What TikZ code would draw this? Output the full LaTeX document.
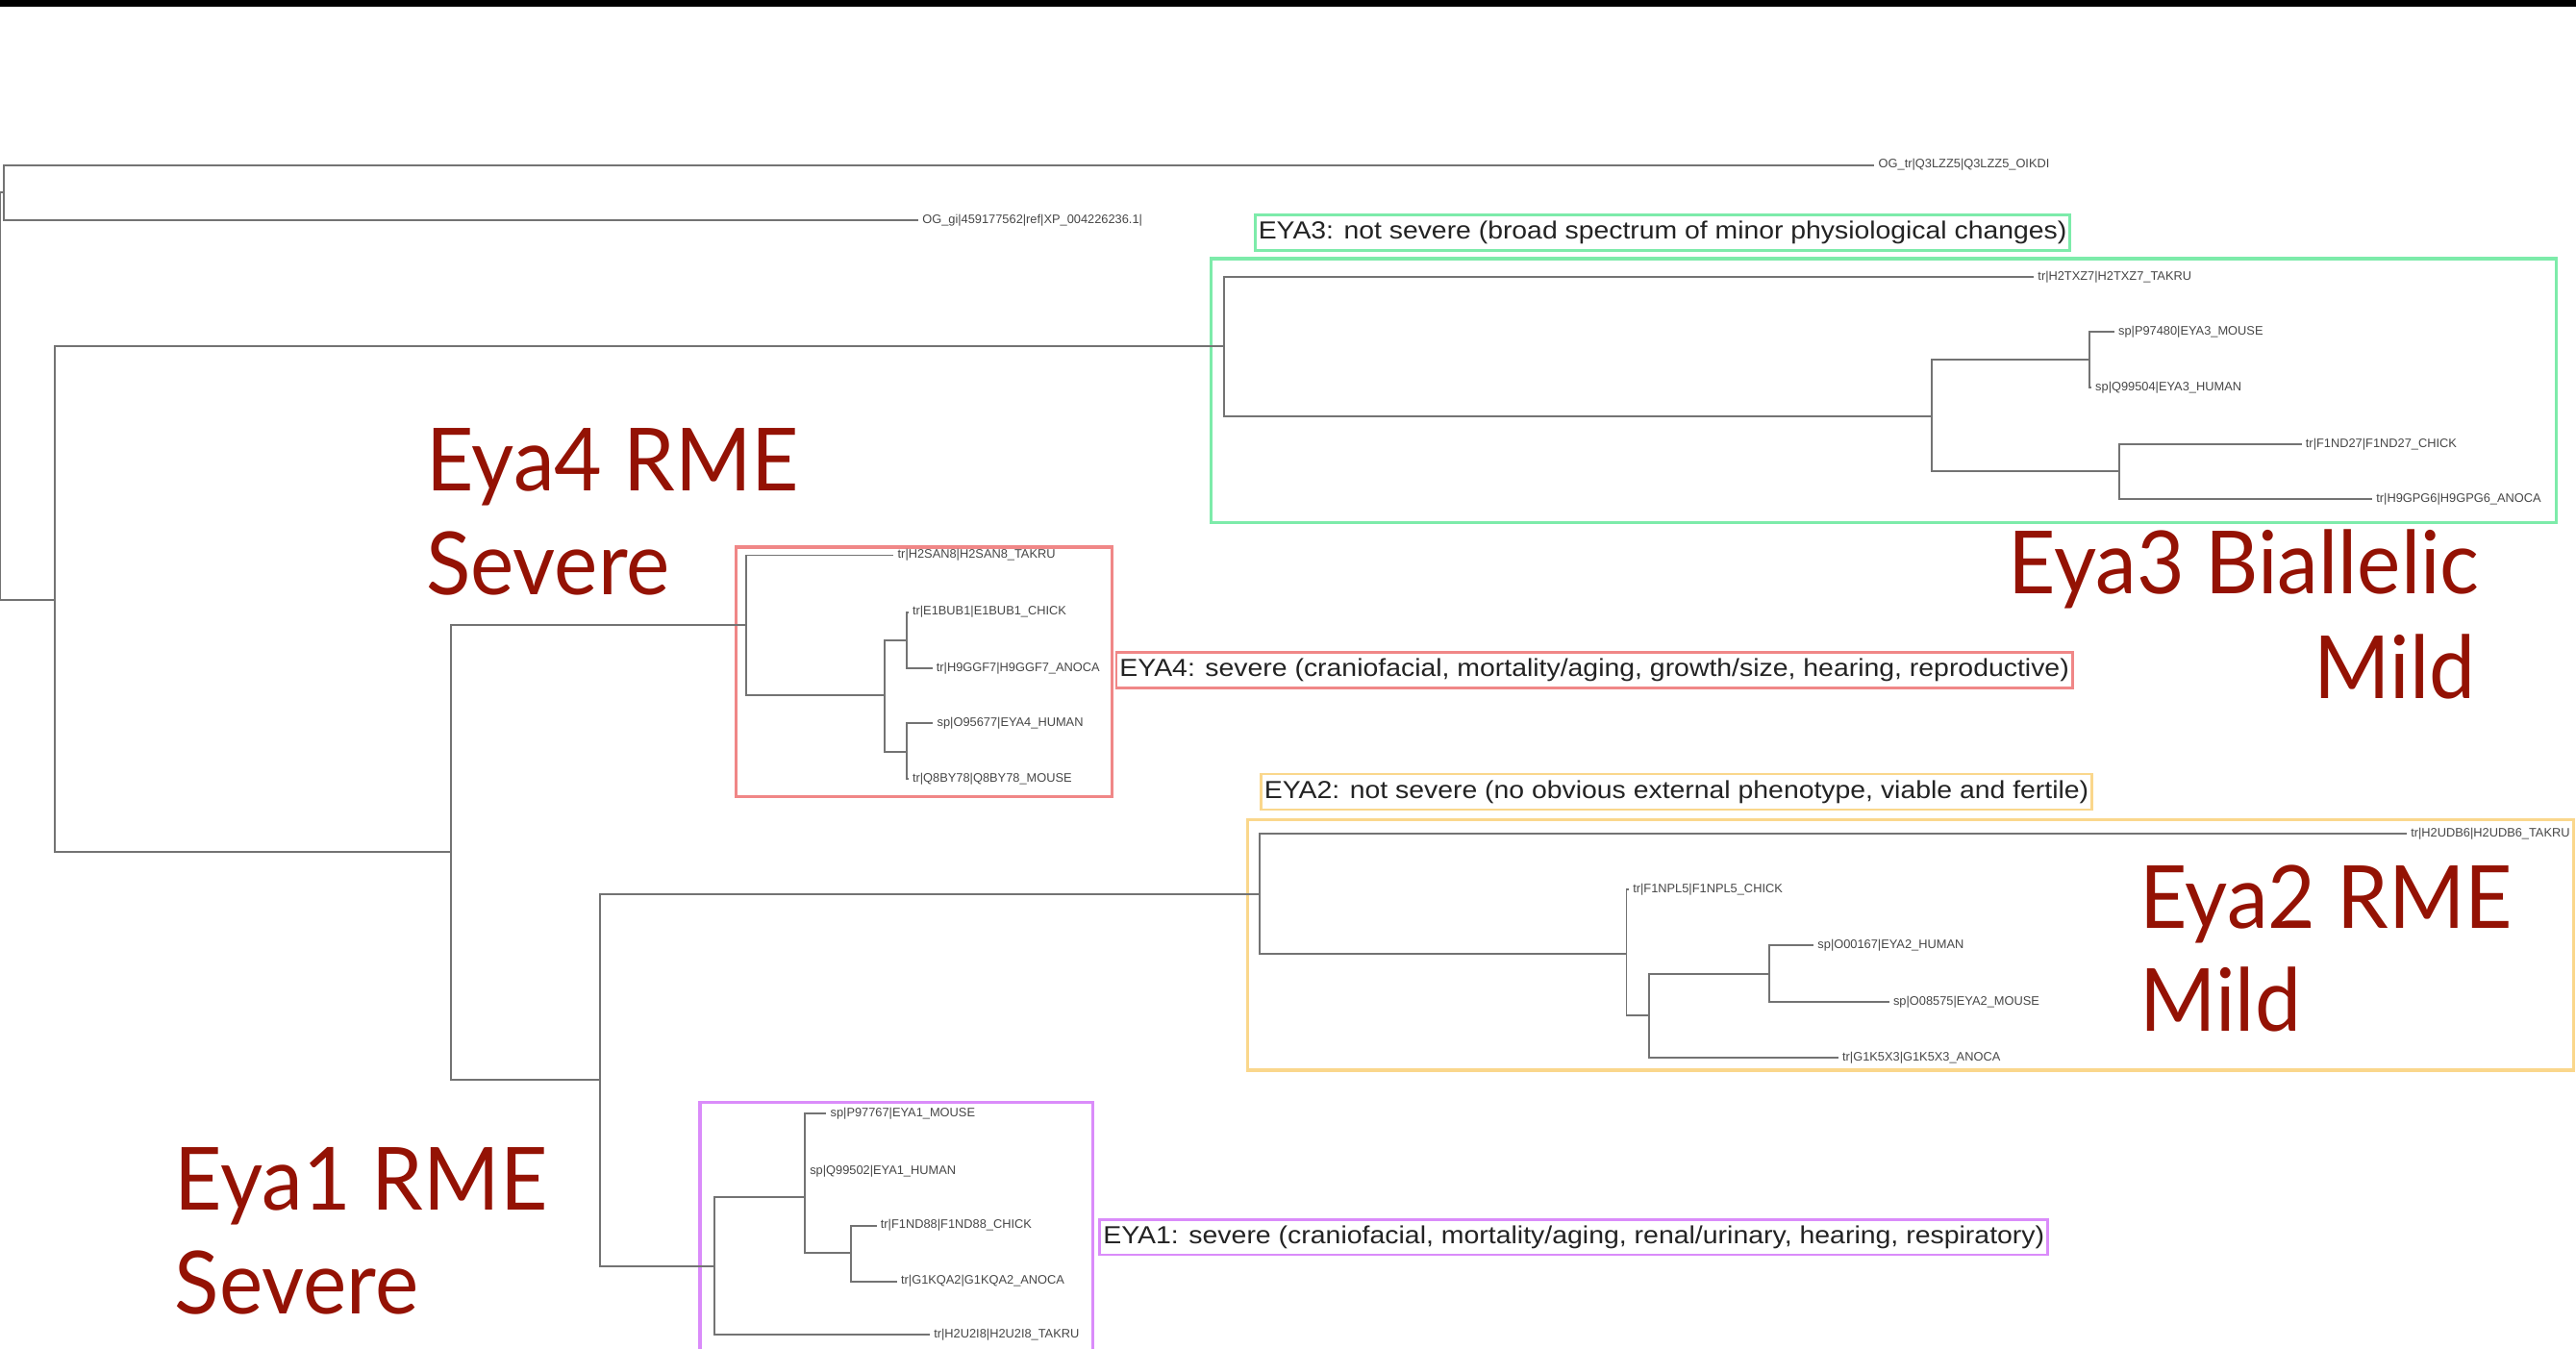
\documentclass[tikz,border=0pt]{standalone}
\usepackage{fontspec}
\usepackage{graphicx}
\setmainfont{Liberation Sans}
\newfontfamily\bigfont{Lato}
\definecolor{redtxt}{RGB}{148,18,4}
\definecolor{branchc}{RGB}{115,115,115}
\definecolor{leafc}{RGB}{70,70,70}
\definecolor{annc}{RGB}{35,35,35}
\definecolor{greenbox}{RGB}{125,235,170}
\definecolor{redbox}{RGB}{240,135,135}
\definecolor{orangebox}{RGB}{250,215,140}
\definecolor{purplebox}{RGB}{218,140,250}
\newcommand\fitw[2]{\resizebox{#1}{\height}{#2}}
\newcommand\narrowtxt[1]{\scalebox{0.945}[1]{#1}}
\begin{document}
\begin{tikzpicture}[x=0.017086cm, y=-0.017086cm,
  branch/.style={draw=branchc, line width=0.55pt},
  leaf/.style={anchor=west, inner xsep=1pt, inner ysep=0pt, text=leafc,
    font=\fontsize{3.65}{4.5}\selectfont},
  ann/.style={line width=0.8pt, inner xsep=1pt, inner ysep=0pt, text=annc,
    minimum height=10.5pt, text height=5.6pt, text depth=1.6pt,
    font=\fontsize{7.3}{9}\selectfont},
  cladebox/.style={line width=0.95pt},
  big/.style={inner sep=0pt, text=redtxt, font=\bigfont\fontsize{25.8}{30}\selectfont}]
\useasboundingbox (0,0) rectangle (1568,821);
\fill[black] (0,0) rectangle (1568,4.3);

% ---- clade boxes
\draw[cladebox, greenbox] (737,157.5) rectangle (1556,318);
\draw[cladebox, redbox] (448,333) rectangle (677,485);
\draw[cladebox, orangebox] (759.5,499) rectangle (1566.5,651.5);
\draw[cladebox, purplebox] (426,823) -- (426,671) -- (665,671) -- (665,823);

% ---- internal nodes
\coordinate (root) at (0,241);
\coordinate (og) at (2.3,117);
\coordinate (ing) at (33.5,365);
\coordinate (eya3) at (745,210.5);
\coordinate (n3a) at (1176,253.5);
\coordinate (n3b) at (1272,219);
\coordinate (n3c) at (1290,287);
\coordinate (n1) at (274.3,518.5);
\coordinate (eya4) at (454,380.5);
\coordinate (n4a) at (538.5,423);
\coordinate (n4b) at (552,390);
\coordinate (n4c) at (552,457.6);
\coordinate (n2) at (365,657.5);
\coordinate (eya2) at (766.5,544.3);
\coordinate (n2a) at (990,580.6);
\coordinate (n2b) at (1004,618);
\coordinate (n2c) at (1077,592.8);
\coordinate (eya1) at (434.8,770.8);
\coordinate (n1a) at (490,728.7);
\coordinate (n1b) at (518,762.6);

% ---- leaves
\node[leaf] (o1) at (1141,100.5) {OG\_tr|Q3LZZ5|Q3LZZ5\_OIKDI};
\node[leaf] (o2) at (559,134) {OG\_gi|459177562|ref|XP\_004226236.1|};
\node[leaf] (t3) at (1238,168.5) {tr|H2TXZ7|H2TXZ7\_TAKRU};
\node[leaf] (m3) at (1287,202) {sp|P97480|EYA3\_MOUSE};
\node[leaf] (h3) at (1273,236) {sp|Q99504|EYA3\_HUMAN};
\node[leaf] (c3) at (1401,270.5) {tr|F1ND27|F1ND27\_CHICK};
\node[leaf] (a3) at (1444,304) {tr|H9GPG6|H9GPG6\_ANOCA};
\node[leaf] (t4) at (544,338) {tr|H2SAN8|H2SAN8\_TAKRU};
\node[leaf] (c4) at (553,372.6) {tr|E1BUB1|E1BUB1\_CHICK};
\node[leaf] (a4) at (567.5,406.8) {tr|H9GGF7|H9GGF7\_ANOCA};
\node[leaf] (h4) at (568,440) {sp|O95677|EYA4\_HUMAN};
\node[leaf] (m4) at (553,474) {tr|Q8BY78|Q8BY78\_MOUSE};
\node[leaf] (t2) at (1465,507.3) {tr|H2UDB6|H2UDB6\_TAKRU};
\node[leaf] (c2) at (991.5,541.4) {tr|F1NPL5|F1NPL5\_CHICK};
\node[leaf] (h2) at (1104,575.5) {sp|O00167|EYA2\_HUMAN};
\node[leaf] (m2) at (1150,609.8) {sp|O08575|EYA2\_MOUSE};
\node[leaf] (a2) at (1119,643.8) {tr|G1K5X3|G1K5X3\_ANOCA};
\node[leaf] (m1) at (503,677.9) {sp|P97767|EYA1\_MOUSE};
\node[leaf] (h1) at (490.5,713) {sp|Q99502|EYA1\_HUMAN};
\node[leaf] (c1) at (533.6,746) {tr|F1ND88|F1ND88\_CHICK};
\node[leaf] (a1) at (546,780) {tr|G1KQA2|G1KQA2\_ANOCA};
\node[leaf] (t1) at (566,812.4) {tr|H2U2I8|H2U2I8\_TAKRU};

% ---- branches
\draw[branch] (root) |- (og);
\draw[branch] (root) |- (ing);
\draw[branch] (og) |- (o1.west);
\draw[branch] (og) |- (o2.west);
\draw[branch] (ing) |- (eya3);
\draw[branch] (ing) |- (n1);
\draw[branch] (eya3) |- (t3.west);
\draw[branch] (eya3) |- (n3a);
\draw[branch] (n3a) |- (n3b);
\draw[branch] (n3a) |- (n3c);
\draw[branch] (n3b) |- (m3.west);
\draw[branch] (n3b) |- (h3.west);
\draw[branch] (n3c) |- (c3.west);
\draw[branch] (n3c) |- (a3.west);
\draw[branch] (n1) |- (eya4);
\draw[branch] (n1) |- (n2);
\draw[branch] (eya4) |- (t4.west);
\draw[branch] (eya4) |- (n4a);
\draw[branch] (n4a) |- (n4b);
\draw[branch] (n4a) |- (n4c);
\draw[branch] (n4b) |- (c4.west);
\draw[branch] (n4b) |- (a4.west);
\draw[branch] (n4c) |- (h4.west);
\draw[branch] (n4c) |- (m4.west);
\draw[branch] (n2) |- (eya2);
\draw[branch] (n2) |- (eya1);
\draw[branch] (eya2) |- (t2.west);
\draw[branch] (eya2) |- (n2a);
\draw[branch] (n2a) |- (c2.west);
\draw[branch] (n2a) |- (n2b);
\draw[branch] (n2b) |- (n2c);
\draw[branch] (n2b) |- (a2.west);
\draw[branch] (n2c) |- (h2.west);
\draw[branch] (n2c) |- (m2.west);
\draw[branch] (eya1) |- (n1a);
\draw[branch] (eya1) |- (t1.west);
\draw[branch] (n1a) |- (m1.west);
\draw[branch] (n1a) |- (h1.west);
\draw[branch] (n1a) |- (n1b);
\draw[branch] (n1b) |- (c1.west);
\draw[branch] (n1b) |- (a1.west);

% ---- annotation boxes
\node[ann, draw=greenbox] (ann3) at (1012,141.5) {\fitw{239.2pt}{EYA3: not severe (broad spectrum of minor physiological changes)}};
\node[ann, draw=redbox] (ann4) at (970.5,407.8) {\fitw{281pt}{EYA4: severe (craniofacial, mortality/aging, growth/size, hearing, reproductive)}};
\node[ann, draw=orangebox] (ann2) at (1020.5,482) {\fitw{244pt}{EYA2: not severe (no obvious external phenotype, viable and fertile)}};
\node[ann, draw=purplebox] (ann1) at (958,753) {\fitw{278.6pt}{EYA1: severe (craniofacial, mortality/aging, renal/urinary, hearing, respiratory)}};

% ---- big red labels
\node[big, anchor=base west] (e4a) at (259,298.6) {\narrowtxt{Eya4 RME}};
\node[big, anchor=base west] (e4b) at (259,362) {\narrowtxt{Severe}};
\node[big, anchor=base west] (e3a) at (1222,361.3) {\narrowtxt{Eya3 Biallelic}};
\node[big, anchor=base east] (e3b) at (1507,425.3) {\narrowtxt{Mild}};
\node[big, anchor=base west] (e2a) at (1302,564.8) {\narrowtxt{Eya2 RME}};
\node[big, anchor=base west] (e2b) at (1302,628) {\narrowtxt{Mild}};
\node[big, anchor=base west] (e1a) at (106,736.5) {\narrowtxt{Eya1 RME}};
\node[big, anchor=base west] (e1b) at (106,800) {\narrowtxt{Severe}};
\end{tikzpicture}
\end{document}
